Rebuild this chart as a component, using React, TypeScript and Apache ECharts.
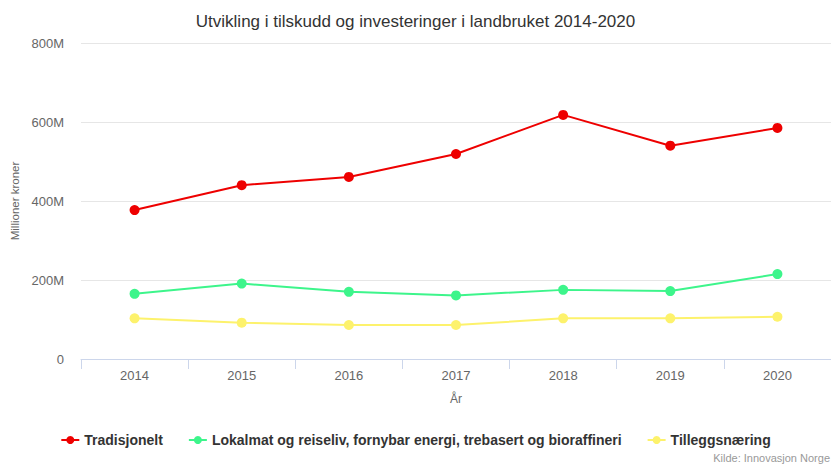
import React, { useEffect, useRef } from "react";
import * as echarts from "echarts";

const years = ["2014", "2015", "2016", "2017", "2018", "2019", "2020"];
const tradisjonelt = [377, 440, 461, 519, 618, 540, 585];
const lokalmat = [165, 191, 170, 161, 175, 172, 215];
const tilleggsnaering = [103, 92, 86, 86, 103, 103, 107];
const seriesNames = [
  "Tradisjonelt",
  "Lokalmat og reiseliv, fornybar energi, trebasert og bioraffineri",
  "Tilleggsnæring",
];
const colors = ["#ee0000", "#3df58b", "#fdf26c"];

const FONT = "'Liberation Sans', Arial, Helvetica, sans-serif";

export default function App() {
  const ref = useRef<HTMLDivElement>(null);
  useEffect(() => {
    if (!ref.current) return;
    const chart = echarts.init(ref.current, undefined, { renderer: "svg" });
    const data = [tradisjonelt, lokalmat, tilleggsnaering];
    chart.setOption({
      animation: false,
      textStyle: { fontFamily: FONT },
      title: {
        text: "Utvikling i tilskudd og investeringer i landbruket 2014-2020",
        left: "center",
        top: 8,
        textStyle: { fontSize: 17, fontWeight: "normal", color: "#333333", fontFamily: FONT },
      },
      legend: {
        top: 428,
        left: "center",
        itemWidth: 18,
        itemHeight: 10,
        itemGap: 25,
        textStyle: { fontSize: 14, fontWeight: "bold", color: "#333333", fontFamily: FONT },
        data: seriesNames,
      },
      grid: { left: 81, right: 0, top: 43, bottom: 105, containLabel: false },
      xAxis: {
        type: "category",
        data: years,
        boundaryGap: true,
        name: "År",
        nameLocation: "middle",
        nameGap: 34,
        nameTextStyle: { color: "#666666", fontSize: 12 },
        axisLine: { lineStyle: { color: "#ccd6eb" } },
        axisTick: { show: true, length: 10, lineStyle: { color: "#ccd6eb" } },
        axisLabel: { color: "#666666", fontSize: 13, margin: 10 },
      },
      yAxis: {
        type: "value",
        min: 0,
        max: 800,
        interval: 200,
        name: "Millioner kroner",
        nameLocation: "middle",
        nameRotate: 90,
        nameGap: 59,
        nameTextStyle: { color: "#666666", fontSize: 11.5 },
        axisLine: { show: false },
        axisTick: { show: false },
        axisLabel: {
          color: "#666666",
          fontSize: 13,
          margin: 17,
          formatter: (v: number) => (v === 0 ? "0" : v + "M"),
        },
        splitLine: { lineStyle: { color: "#e6e6e6" } },
      },
      series: seriesNames.map((n, i) => ({
        name: n,
        type: "line",
        data: data[i],
        color: colors[i],
        symbol: "circle",
        symbolSize: 10,
        lineStyle: { width: 2, color: colors[i] },
        itemStyle: { color: colors[i] },
      })),
      graphic: [
        {
          type: "text",
          right: 1,
          top: 452,
          style: { text: "Kilde: Innovasjon Norge", fill: "#999999", fontSize: 11, fontFamily: FONT },
        },
      ],
    });
    return () => chart.dispose();
  }, []);
  return <div ref={ref} style={{ width: 831, height: 464, position: "absolute", left: 0, top: 0 }} />;
}
